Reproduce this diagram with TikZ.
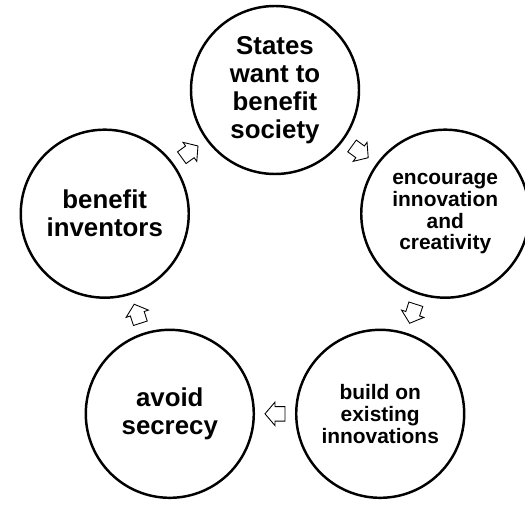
\documentclass[tikz,border=0pt]{standalone}
\usepackage{fontspec}
\setmainfont{Liberation Sans}
\usetikzlibrary{calc}

\tikzset{
  stage/.style={circle,draw,line width=1.4pt,minimum size=3.36cm,inner sep=0pt,align=center,
    font=\bfseries\fontsize{14.7}{15.9}\selectfont},
  smallstage/.style={stage,font=\bfseries\fontsize{11.9}{12.4}\selectfont},
  flowline/.style={draw=black,fill=white,line width=0.5pt,line join=miter}
}

% block arrow: #1 = where, #2 = direction
\newcommand{\flowarrow}[2]{%
  \begin{scope}[shift={(#1)},rotate=#2]
    \filldraw[flowline] (-0.2,-0.145) -- (0,-0.145) -- (0,-0.235) -- (0.2,0)
        -- (0,0.235) -- (0,0.145) -- (-0.2,0.145) -- cycle;
  \end{scope}}

\begin{document}
\begin{tikzpicture}
\def\ring{3.58}
\useasboundingbox (0,0) rectangle (10.5,10.3);

\coordinate (c) at (5.5,4.92);

\node[stage] (states) at ($(c)+(90:\ring)$) {States\\want to\\benefit\\society};
\node[smallstage] (encourage) at ($(c)+(18:\ring)$) {encourage\\innovation\\and\\creativity};
\node[smallstage] (build) at ($(c)+(-54:\ring)$) {build on\\existing\\innovations};
\node[stage] (avoid) at ($(c)+(-126:\ring)$) {avoid\\secrecy};
\node[stage] (inventors) at ($(c)+(162:\ring)$) {benefit\\inventors};

\flowarrow{$(states)!0.5!(encourage)$}{-36}
\flowarrow{$(encourage)!0.5!(build)$}{-108}
\flowarrow{$(build)!0.5!(avoid)$}{180}
\flowarrow{$(avoid)!0.5!(inventors)$}{108}
\flowarrow{$(inventors)!0.5!(states)$}{36}

\end{tikzpicture}
\end{document}
